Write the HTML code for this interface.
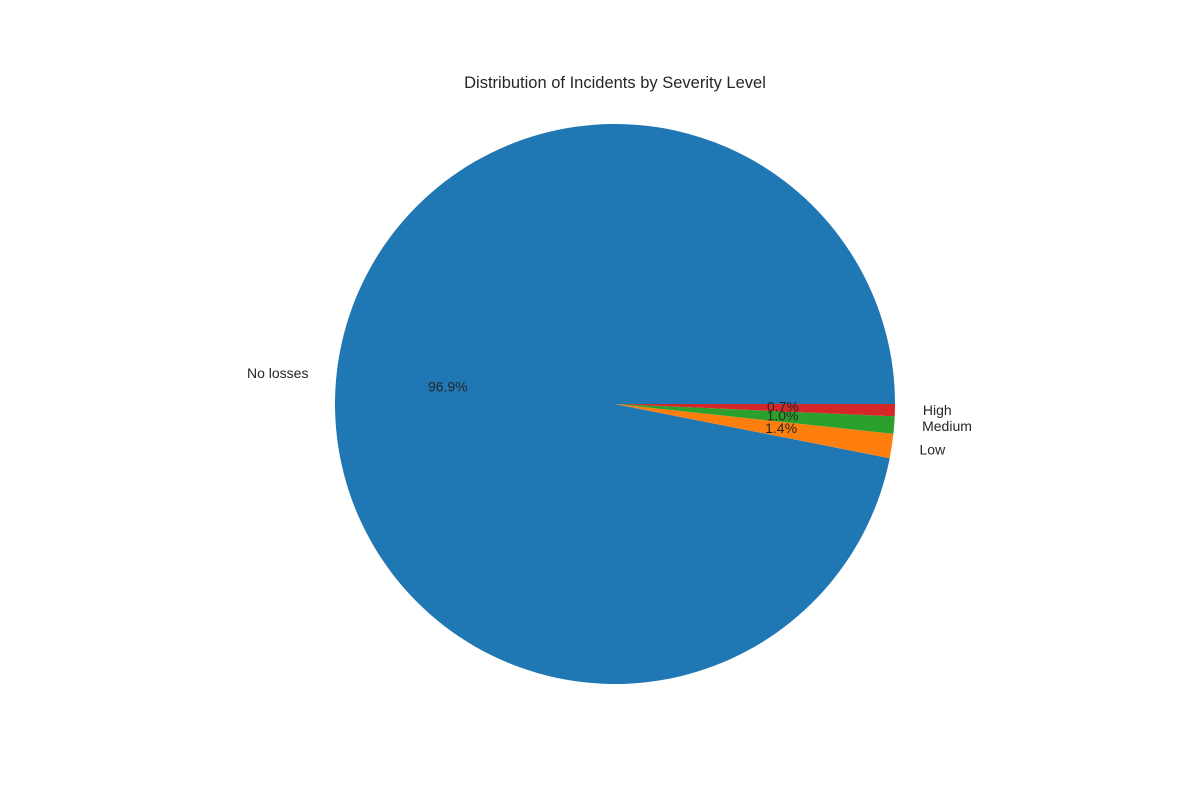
<!DOCTYPE html>
<html><head><meta charset="utf-8"><style>
html,body{margin:0;padding:0;background:#fff;}
svg text{font-family:"Liberation Sans","DejaVu Sans",sans-serif;fill:#262626;}
</style></head><body>
<svg id="chart" width="1200" height="800" viewBox="0 0 1200 800">
<text x="615" y="88" text-anchor="middle" font-size="16.5">Distribution of Incidents by Severity Level</text>
<g id="slices"></g>
</svg>
<script>
const categories = ["No losses", "Low", "Medium", "High"];
const values = [96.9, 1.4, 1.0, 0.7];
const colors = ["#1f77b4", "#ff7f0e", "#2ca02c", "#d62728"];
const cx = 615, cy = 404, r = 280;
const ns = "http://www.w3.org/2000/svg";
const g = document.getElementById("slices");
const total = values.reduce((a, b) => a + b, 0);
function pt(angDeg, rad) {
  const a = angDeg * Math.PI / 180;
  return [cx + rad * Math.cos(a), cy - rad * Math.sin(a)];
}
let start = 0;
values.forEach((v, i) => {
  const sweep = v / total * 360;
  const end = start + sweep;
  const p1 = pt(start, r), p2 = pt(end, r);
  const large = sweep > 180 ? 1 : 0;
  const path = document.createElementNS(ns, "path");
  path.setAttribute("d", `M${cx},${cy} L${p1[0]},${p1[1]} A${r},${r} 0 ${large} 0 ${p2[0]},${p2[1]} Z`);
  path.setAttribute("fill", colors[i]);
  
  
  g.appendChild(path);
  const mid = start + sweep / 2;
  const lp = pt(mid, r * 1.1);
  const lab = document.createElementNS(ns, "text");
  lab.setAttribute("x", lp[0]);
  lab.setAttribute("y", lp[1] + 4);
  lab.setAttribute("font-size", "14");
  lab.setAttribute("text-anchor", Math.cos(mid * Math.PI / 180) >= 0 ? "start" : "end");
  lab.textContent = categories[i];
  
  
  g.appendChild(lab);
  const pp = pt(mid, r * 0.6);
  const pct = document.createElementNS(ns, "text");
  pct.setAttribute("x", pp[0]);
  pct.setAttribute("y", pp[1] + 4);
  pct.setAttribute("font-size", "14");
  pct.setAttribute("text-anchor", "middle");
  pct.textContent = v.toFixed(1) + "%";
  
  
  g.appendChild(pct);
  start = end;
});
</script>
</body></html>
